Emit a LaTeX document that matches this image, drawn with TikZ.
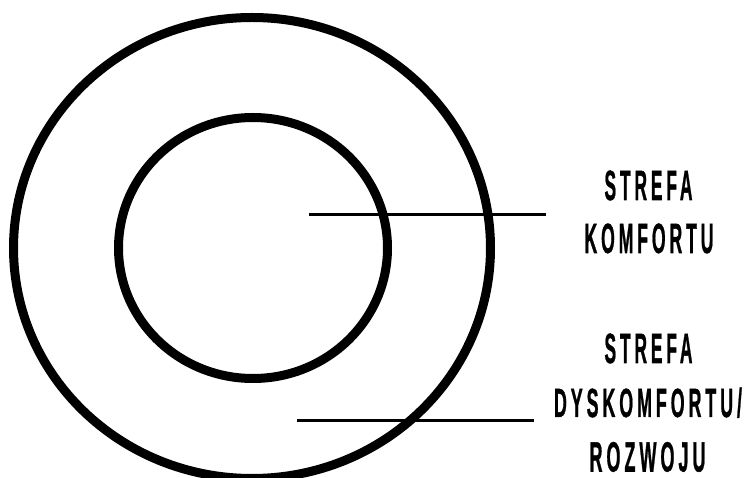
\documentclass[tikz,border=0pt]{standalone}
\usepackage{fontspec}
\usepackage{graphicx}
\newfontfamily\labelfont[LetterSpace=22,FakeBold=1.2]{Liberation Sans Bold}
\newcommand{\lbl}[2]{\resizebox{#1pt}{29.5pt}{\labelfont\fontsize{40}{48}\selectfont #2}}
\begin{document}
\begin{tikzpicture}[x=1pt,y=-1pt,
  ring/.style={draw=black,line width=9pt},
  leader/.style={draw=black,line width=3pt},
  lab/.style={inner sep=0pt,anchor=base}]
\useasboundingbox (0,0) rectangle (745,478);
\fill[white] (0,0) rectangle (745,478);
\draw[ring] (252,248) ellipse [x radius=238.5, y radius=230.5];
\draw[ring] (253,248) ellipse [x radius=134.5, y radius=130.5];
\node[lab] (t1a) at (648.5,200) {\lbl{88}{STREFA}};
\node[lab] (t1b) at (649,253) {\lbl{129}{KOMFORTU}};
\node[lab] (t2a) at (648.5,363) {\lbl{88}{STREFA}};
\node[lab] (t2b) at (648,417) {\lbl{188}{DYSKOMFORTU/}};
\node[lab] (t2c) at (647.5,471.5) {\lbl{116}{ROZWOJU}};
\coordinate (a1) at (309,215);
\coordinate (b1) at (546,215);
\coordinate (a2) at (297,421);
\coordinate (b2) at (534,421);
\draw[leader] (a1) -- (b1);
\draw[leader] (a2) -- (b2);
\end{tikzpicture}
\end{document}
